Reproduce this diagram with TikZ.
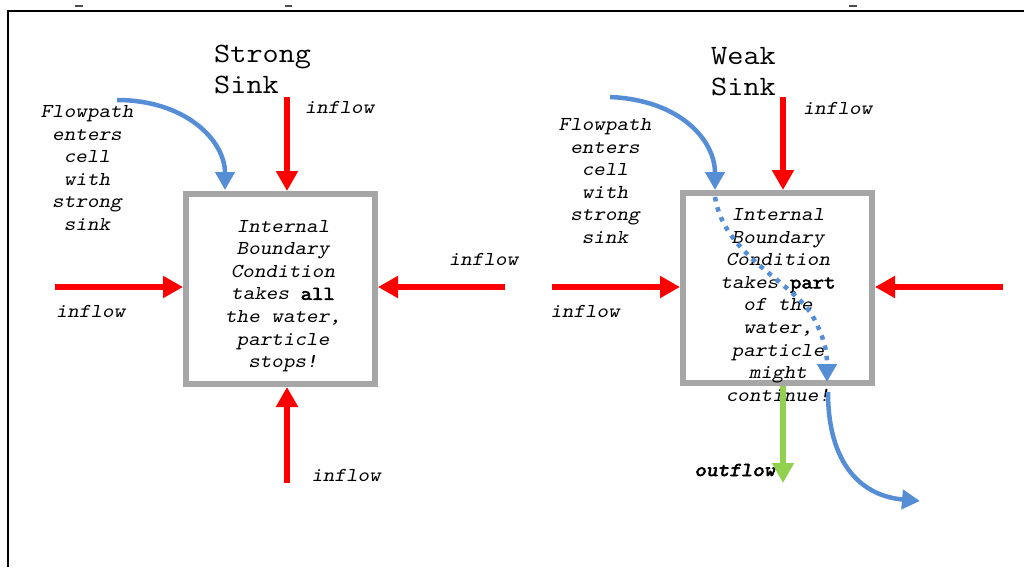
\documentclass[tikz,border=0pt]{standalone}
\usepackage{fontspec}
\usetikzlibrary{arrows.meta}
\newfontfamily\monofont{Latin Modern Mono}[
  FakeStretch=1.12, AutoFakeBold=3,
  ItalicFont={Latin Modern Mono Slanted},
  BoldItalicFont={Latin Modern Mono Slanted}, BoldItalicFeatures={FakeBold=3}]
\definecolor{flowred}{RGB}{255,0,0}
\definecolor{cellgray}{RGB}{166,166,166}
\definecolor{pathblue}{RGB}{85,142,213}
\definecolor{outgreen}{RGB}{146,208,80}
\tikzset{
  cell/.style={draw=cellgray, line width=6pt, fill=white, minimum width=189pt, minimum height=190pt, inner sep=0pt},
  inarrow/.style={draw=flowred, line width=6pt, -{Triangle[width=21pt,length=20pt]}},
  outarrow/.style={draw=outgreen, line width=6pt, -{Triangle[width=21pt,length=20pt]}},
  patharrow/.style={draw=pathblue, line width=4.5pt, -{Triangle[width=19pt,length=18pt]}},
  pathdots/.style={draw=pathblue, line width=4.5pt, dash pattern=on 4.5pt off 6pt, -{Triangle[width=19pt,length=18pt]}},
  lbl/.style={inner sep=0pt, font=\monofont\itshape\fontsize{19.7}{22.6}\selectfont, align=center},
  title/.style={inner sep=0pt, font=\monofont\fontsize{28}{31}\selectfont, align=left, anchor=west},
}
\begin{document}
\begin{tikzpicture}[x=1pt,y=-1pt]
\useasboundingbox (0,0) rectangle (1024,567);
\fill[white] (0,0) rectangle (1024,567);

% outer frame and marks along the top edge
\draw[black, line width=2pt] (8,567) -- (8,11) -- (1024,11);
\draw[black!70, line width=1.5pt] (75,6) -- (83,6);
\draw[black!70, line width=1.5pt] (285,6) -- (292,6);
\draw[black!70, line width=1.5pt] (849,6) -- (857,6);

% the two cells
\node[cell] (A) at (280.5,289) {};
\node[cell] (B) at (777.5,288) {};

% titles
\node[title] (tA) at (214,69) {Strong\\Sink};
\node[title] (tB) at (711,72) {Weak\\Sink};

% cell texts
\node[lbl] (xA) at (283,296) {Internal\\Boundary\\Condition\\takes {\bfseries\upshape all}\\the water,\\particle\\stops!};
\node[lbl] (xB) at (778,305) {Internal\\Boundary\\Condition\\takes {\bfseries\upshape part}\\of the\\water,\\particle\\might\\continue!};

% flowpath notes
\node[lbl] (fA) at (87,168) {Flowpath\\enters\\cell\\with\\strong\\sink};
\node[lbl] (fB) at (605,181) {Flowpath\\enters\\cell\\with\\strong\\sink};

% inflow / outflow labels
\node[lbl] (iA1) at (339.5,107) {inflow};
\node[lbl] (iA2) at (90.5,311) {inflow};
\node[lbl] (iA3) at (483.5,259) {inflow};
\node[lbl] (iA4) at (346,475) {inflow};
\node[lbl] (iB1) at (837.5,108) {inflow};
\node[lbl] (iB2) at (585,311) {inflow};
\node[lbl] (oB) at (735,470) {\bfseries outflow};

% arrow start points
\coordinate (sA1) at (287,97);
\coordinate (sA2) at (55,287);
\coordinate (sA3) at (505,287);
\coordinate (sA4) at (287,483);
\coordinate (sB1) at (783,97);
\coordinate (sB2) at (552,287);
\coordinate (sB3) at (1003,287);
\coordinate (eB4) at (783,483);

% inflows into the strong sink
\draw[inarrow] (sA1) -- (sA1 |- A.north);
\draw[inarrow] (sA2) -- (sA2 -| A.west);
\draw[inarrow] (sA3) -- (sA3 -| A.east);
\draw[inarrow] (sA4) -- (sA4 |- A.south);

% inflows into the weak sink and its outflow
\draw[inarrow] (sB1) -- (sB1 |- B.north);
\draw[inarrow] (sB2) -- (sB2 -| B.west);
\draw[inarrow] (sB3) -- (sB3 -| B.east);
\draw[outarrow] (eB4 |- B.south) -- (eB4);

% particle flowpaths
\coordinate (pA0) at (117,100);
\coordinate (pA1) at (225,190);
\draw[patharrow] (pA0) .. controls (185,100) and (225,140) .. (pA1);

\coordinate (pB0) at (610,97);
\coordinate (pB1) at (715,190);
\draw[patharrow] (pB0) .. controls (680,100) and (715,140) .. (pB1);

\coordinate (pB2) at (715,197);
\coordinate (pB3) at (812,315);
\coordinate (pB4) at (827,382);
\draw[pathdots] (pB2) .. controls (724,255) and (790,280) .. (pB3)
                      .. controls (826,340) and (827,355) .. (pB4);

\coordinate (pB5) at (828,392);
\coordinate (pB6) at (920,501);
\draw[patharrow] (pB5) .. controls (828,465) and (862,496) .. (pB6);
\end{tikzpicture}
\end{document}
